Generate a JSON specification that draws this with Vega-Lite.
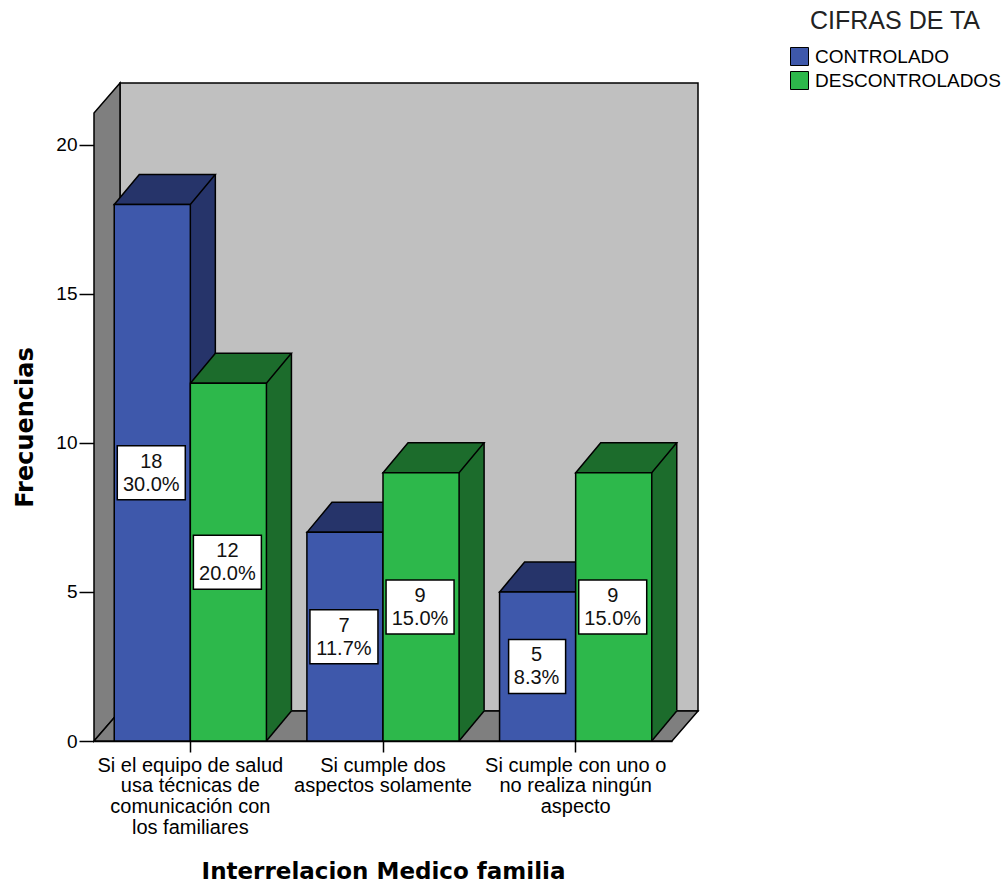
{
  "$schema": "https://vega.github.io/schema/vega-lite/v6.json",
  "width": 578,
  "height": 628,
  "autosize": {"type": "none"},
  "padding": {"left": 94, "top": 113, "right": 333, "bottom": 142},
  "background": "white",
  "config": {
    "view": {"stroke": null},
    "axis": {"labelColor": "black", "titleColor": "black", "tickColor": "black", "domainColor": "black", "grid": false}
  },
  "datasets": {
    "tabla": [
      {"cat": "Si el equipo de salud usa técnicas de comunicación con los familiares", "serie": "CONTROLADO", "n": 18, "pct": 0.300},
      {"cat": "Si el equipo de salud usa técnicas de comunicación con los familiares", "serie": "DESCONTROLADOS", "n": 12, "pct": 0.200},
      {"cat": "Si cumple dos aspectos solamente", "serie": "CONTROLADO", "n": 7, "pct": 0.117},
      {"cat": "Si cumple dos aspectos solamente", "serie": "DESCONTROLADOS", "n": 9, "pct": 0.150},
      {"cat": "Si cumple con uno o no realiza ningún aspecto", "serie": "CONTROLADO", "n": 5, "pct": 0.083},
      {"cat": "Si cumple con uno o no realiza ningún aspecto", "serie": "DESCONTROLADOS", "n": 9, "pct": 0.150}
    ]
  },
  "layer": [
    {
      "data": {"values": [{}]},
      "mark": {"type": "point", "shape": "M26,-30 L604,-30 L604,-658 L26,-658 Z", "size": 4, "filled": true, "fill": "#c0c0c0", "stroke": "black", "strokeWidth": 1.5, "opacity": 1},
      "encoding": {
        "x": {"value": 0},
        "y": {"datum": 0, "type": "quantitative", "scale": {"domain": [0, 21.07], "nice": false}, "axis": null}
      }
    },
    {
      "data": {"values": [{}]},
      "mark": {"type": "point", "shape": "M0,0 L0,-628 L26,-658 L26,-30 Z", "size": 4, "filled": true, "fill": "#7f7f7f", "stroke": "black", "strokeWidth": 1.5, "opacity": 1},
      "encoding": {
        "x": {"value": 0},
        "y": {"datum": 0, "type": "quantitative", "scale": {"domain": [0, 21.07], "nice": false}, "axis": null}
      }
    },
    {
      "data": {"values": [{}]},
      "mark": {"type": "point", "shape": "M0,0 L26,-30 L604,-30 L578,0 Z", "size": 4, "filled": true, "fill": "#7f7f7f", "stroke": "black", "strokeWidth": 1.5, "opacity": 1},
      "encoding": {
        "x": {"value": 0},
        "y": {"datum": 0, "type": "quantitative", "scale": {"domain": [0, 21.07], "nice": false}, "axis": null}
      }
    },
    {
      "data": {"name": "tabla"},
      "transform": [{"filter": "datum.serie == 'CONTROLADO'"}],
      "mark": {"type": "rule", "strokeWidth": 25, "strokeCap": "butt", "color": "#26346a", "opacity": 1, "xOffset": 12.5, "yOffset": -30, "y2Offset": -30},
      "encoding": {
        "x": {
          "field": "cat", "type": "nominal",
          "scale": {"domain": ["Si el equipo de salud usa técnicas de comunicación con los familiares", "Si cumple dos aspectos solamente", "Si cumple con uno o no realiza ningún aspecto"], "paddingInner": 0.21, "paddingOuter": 0.105},
          "axis": {
            "title": "Interrelacion Medico familia",
            "labelExpr": "datum.value == 'Si el equipo de salud usa técnicas de comunicación con los familiares' ? ['Si el equipo de salud', 'usa técnicas de', 'comunicación con', 'los familiares'] : datum.value == 'Si cumple dos aspectos solamente' ? ['Si cumple dos', 'aspectos solamente'] : ['Si cumple con uno o', 'no realiza ningún', 'aspecto']",
            "labelAngle": 0,
            "labelAlign": "center",
            "labelBaseline": "top",
            "labelFont": "Liberation Sans",
            "labelFontSize": 20,
            "labelLineHeight": 20.7,
            "labelPadding": 3,
            "labelLimit": 0,
            "tickSize": 11,
            "tickWidth": 1.5,
            "domain": true,
            "domainWidth": 1.5,
            "titleFont": "DejaVu Sans",
            "titleFontWeight": "bold",
            "titleFontSize": 23,
            "titlePadding": 23
          }
        },
        "y": {"field": "n", "type": "quantitative", "scale": {"domain": [0, 21.07], "nice": false}, "axis": null},
        "y2": {"datum": 0}
      }
    },
    {
      "data": {"name": "tabla"},
      "transform": [{"filter": "datum.serie == 'DESCONTROLADOS'"}],
      "mark": {"type": "rule", "strokeWidth": 25, "strokeCap": "butt", "color": "#1c6c2c", "opacity": 1, "xOffset": 88.6, "yOffset": -30, "y2Offset": -30},
      "encoding": {
        "x": {"field": "cat", "type": "nominal", "scale": {"domain": ["Si el equipo de salud usa técnicas de comunicación con los familiares", "Si cumple dos aspectos solamente", "Si cumple con uno o no realiza ningún aspecto"], "paddingInner": 0.21, "paddingOuter": 0.105}},
        "y": {"field": "n", "type": "quantitative", "scale": {"domain": [0, 21.07], "nice": false}, "axis": null},
        "y2": {"datum": 0}
      }
    },
    {
      "data": {"name": "tabla"},
      "transform": [{"filter": "datum.serie == 'CONTROLADO'"}],
      "mark": {"type": "rule", "strokeWidth": 1.5, "color": "black", "opacity": 1, "xOffset": 25, "yOffset": -30, "y2Offset": -30},
      "encoding": {
        "x": {"field": "cat", "type": "nominal", "scale": {"domain": ["Si el equipo de salud usa técnicas de comunicación con los familiares", "Si cumple dos aspectos solamente", "Si cumple con uno o no realiza ningún aspecto"], "paddingInner": 0.21, "paddingOuter": 0.105}},
        "y": {"field": "n", "type": "quantitative", "scale": {"domain": [0, 21.07], "nice": false}, "axis": null},
        "y2": {"datum": 0}
      }
    },
    {
      "data": {"name": "tabla"},
      "transform": [{"filter": "datum.serie == 'DESCONTROLADOS'"}],
      "mark": {"type": "rule", "strokeWidth": 1.5, "color": "black", "opacity": 1, "xOffset": 101.1, "yOffset": -30, "y2Offset": -30},
      "encoding": {
        "x": {"field": "cat", "type": "nominal", "scale": {"domain": ["Si el equipo de salud usa técnicas de comunicación con los familiares", "Si cumple dos aspectos solamente", "Si cumple con uno o no realiza ningún aspecto"], "paddingInner": 0.21, "paddingOuter": 0.105}},
        "y": {"field": "n", "type": "quantitative", "scale": {"domain": [0, 21.07], "nice": false}, "axis": null},
        "y2": {"datum": 0}
      }
    },
    {
      "data": {"name": "tabla"},
      "mark": {"type": "point", "shape": "M38,0 L38,-30.5 L63.5,-30.5 Z", "size": 4, "filled": true, "strokeWidth": 0, "opacity": 1},
      "encoding": {
        "x": {"field": "cat", "type": "nominal", "scale": {"domain": ["Si el equipo de salud usa técnicas de comunicación con los familiares", "Si cumple dos aspectos solamente", "Si cumple con uno o no realiza ningún aspecto"], "paddingInner": 0.21, "paddingOuter": 0.105}},
        "xOffset": {"field": "serie", "type": "nominal"},
        "y": {"datum": 0, "type": "quantitative", "scale": {"domain": [0, 21.07], "nice": false}, "axis": null},
        "fill": {"condition": {"test": "datum.serie == 'CONTROLADO'", "value": "#26346a"}, "value": "#1c6c2c"}
      }
    },
    {
      "data": {"name": "tabla"},
      "mark": {"type": "point", "shape": "M38,0 L63,-30", "size": 4, "filled": false, "stroke": "black", "strokeWidth": 1.5, "opacity": 1},
      "encoding": {
        "x": {"field": "cat", "type": "nominal", "scale": {"domain": ["Si el equipo de salud usa técnicas de comunicación con los familiares", "Si cumple dos aspectos solamente", "Si cumple con uno o no realiza ningún aspecto"], "paddingInner": 0.21, "paddingOuter": 0.105}},
        "xOffset": {"field": "serie", "type": "nominal"},
        "y": {"datum": 0, "type": "quantitative", "scale": {"domain": [0, 21.07], "nice": false}, "axis": null}
      }
    },
    {
      "data": {"name": "tabla"},
      "mark": {"type": "point", "shape": "M-38,0 L-13,-30 L63,-30 L38,0 Z", "size": 4, "filled": true, "stroke": "black", "strokeWidth": 1.5, "opacity": 1},
      "encoding": {
        "x": {"field": "cat", "type": "nominal", "scale": {"domain": ["Si el equipo de salud usa técnicas de comunicación con los familiares", "Si cumple dos aspectos solamente", "Si cumple con uno o no realiza ningún aspecto"], "paddingInner": 0.21, "paddingOuter": 0.105}},
        "xOffset": {"field": "serie", "type": "nominal"},
        "y": {"field": "n", "type": "quantitative", "scale": {"domain": [0, 21.07], "nice": false}, "axis": null},
        "fill": {"condition": {"test": "datum.serie == 'CONTROLADO'", "value": "#26346a"}, "value": "#1c6c2c"}
      }
    },
    {
      "data": {"name": "tabla"},
      "mark": {"type": "bar", "stroke": "black", "strokeWidth": 1.5},
      "encoding": {
        "x": {"field": "cat", "type": "nominal", "scale": {"domain": ["Si el equipo de salud usa técnicas de comunicación con los familiares", "Si cumple dos aspectos solamente", "Si cumple con uno o no realiza ningún aspecto"], "paddingInner": 0.21, "paddingOuter": 0.105}},
        "xOffset": {"field": "serie", "type": "nominal"},
        "y": {
          "field": "n", "type": "quantitative",
          "scale": {"domain": [0, 21.07], "nice": false},
          "axis": {
            "title": "Frecuencias",
            "values": [0, 5, 10, 15, 20],
            "domain": false,
            "tickSize": 15,
            "tickWidth": 1.5,
            "labelFont": "Liberation Sans",
            "labelFontSize": 19,
            "labelPadding": 2,
            "titleFont": "DejaVu Sans",
            "titleFontWeight": "bold",
            "titleFontSize": 24,
            "titlePadding": 18
          }
        },
        "color": {
          "field": "serie", "type": "nominal",
          "scale": {"domain": ["CONTROLADO", "DESCONTROLADOS"], "range": ["#3e58ab", "#2db84b"]},
          "legend": {
            "title": "CIFRAS DE TA",
            "orient": "none",
            "legendX": 696,
            "legendY": -104,
            "direction": "vertical",
            "padding": 0,
            "titleAnchor": "middle",
            "titleFont": "Liberation Sans",
            "titleFontSize": 25,
            "titleFontWeight": "normal",
            "titleColor": "#222222",
            "titlePadding": 13,
            "labelFont": "Liberation Sans",
            "labelFontSize": 19,
            "labelColor": "black",
            "labelOffset": 6,
            "labelLimit": 0,
            "symbolType": "square",
            "symbolSize": 324,
            "symbolStrokeColor": "black",
            "symbolStrokeWidth": 1,
            "symbolOpacity": 1,
            "rowPadding": 1
          }
        }
      }
    },
    {
      "data": {"name": "tabla"},
      "mark": {"type": "point", "size": 4, "filled": true, "fill": "white", "stroke": "black", "strokeWidth": 1.5, "opacity": 1},
      "encoding": {
        "x": {"field": "cat", "type": "nominal", "scale": {"domain": ["Si el equipo de salud usa técnicas de comunicación con los familiares", "Si cumple dos aspectos solamente", "Si cumple con uno o no realiza ningún aspecto"], "paddingInner": 0.21, "paddingOuter": 0.105}},
        "xOffset": {"field": "serie", "type": "nominal"},
        "y": {"field": "n", "type": "quantitative", "scale": {"domain": [0, 42.14], "nice": false}, "axis": null},
        "shape": {
          "condition": {"test": "datum.pct < 0.1", "value": "M-29,-27 L28,-27 L28,27 L-29,27 Z"},
          "value": "M-35,-27 L33,-27 L33,27 L-35,27 Z"
        }
      }
    },
    {
      "data": {"name": "tabla"},
      "mark": {"type": "text", "font": "Liberation Sans", "fontSize": 20, "baseline": "middle", "align": "center", "dy": -11, "dx": -1, "color": "#111111"},
      "encoding": {
        "x": {"field": "cat", "type": "nominal", "scale": {"domain": ["Si el equipo de salud usa técnicas de comunicación con los familiares", "Si cumple dos aspectos solamente", "Si cumple con uno o no realiza ningún aspecto"], "paddingInner": 0.21, "paddingOuter": 0.105}},
        "xOffset": {"field": "serie", "type": "nominal"},
        "y": {"field": "n", "type": "quantitative", "scale": {"domain": [0, 42.14], "nice": false}, "axis": null},
        "text": {"field": "n", "type": "quantitative"}
      }
    },
    {
      "data": {"name": "tabla"},
      "mark": {"type": "text", "font": "Liberation Sans", "fontSize": 20, "baseline": "middle", "align": "center", "dy": 12, "dx": -1, "color": "#111111"},
      "encoding": {
        "x": {"field": "cat", "type": "nominal", "scale": {"domain": ["Si el equipo de salud usa técnicas de comunicación con los familiares", "Si cumple dos aspectos solamente", "Si cumple con uno o no realiza ningún aspecto"], "paddingInner": 0.21, "paddingOuter": 0.105}},
        "xOffset": {"field": "serie", "type": "nominal"},
        "y": {"field": "n", "type": "quantitative", "scale": {"domain": [0, 42.14], "nice": false}, "axis": null},
        "text": {"field": "pct", "type": "quantitative", "format": ".1%"}
      }
    }
  ],
  "resolve": {"scale": {"y": "independent"}}
}
